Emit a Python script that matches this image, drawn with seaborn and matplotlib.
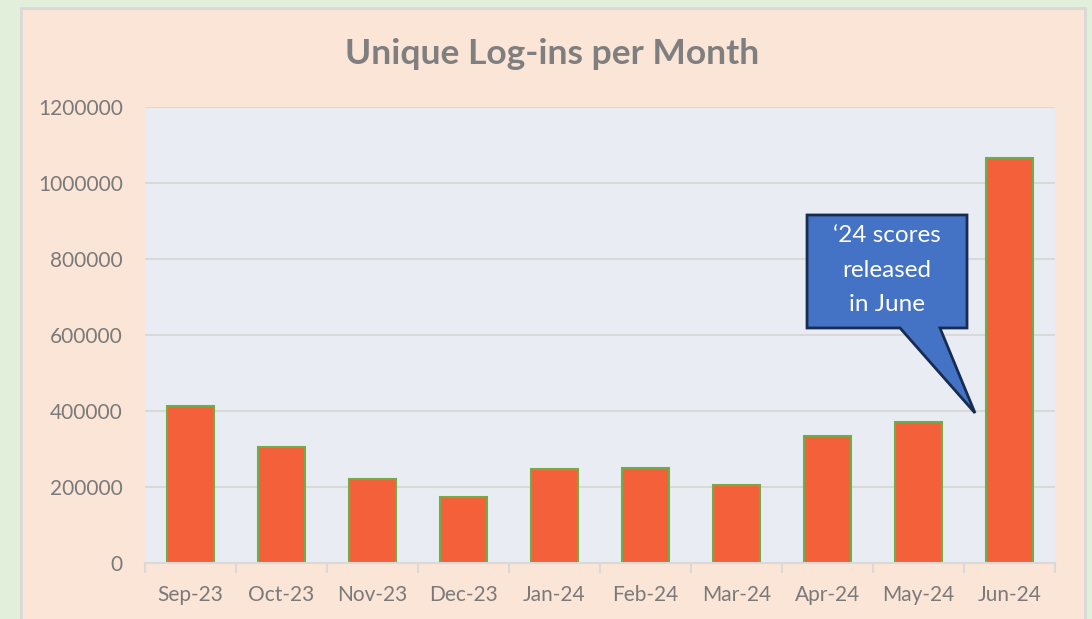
import matplotlib
matplotlib.use("Agg")
import matplotlib.pyplot as plt
import matplotlib.patches as mpatches
import seaborn as sns
import pandas as pd

months = ["Sep-23", "Oct-23", "Nov-23", "Dec-23", "Jan-24", "Feb-24",
          "Mar-24", "Apr-24", "May-24", "Jun-24"]
logins = [414000, 306000, 222000, 174000, 247000, 249000,
          205000, 335000, 372000, 1066000]
y_ticks = [0, 200000, 400000, 600000, 800000, 1000000, 1200000]
title = "Unique Log-ins per Month"
callout = "\u201824 scores\nreleased\nin June"

sns.set_theme(style="white")
plt.rcParams["font.family"] = ["Lato", "DejaVu Sans"]

W, H = 1092, 619
fig = plt.figure(figsize=(W / 100, H / 100), dpi=100)
fig.patch.set_facecolor("#e2efda")

# background axes holding the peach chart panel
bg = fig.add_axes([0, 0, 1, 1], zorder=-5)
bg.set_xlim(0, W)
bg.set_ylim(H, 0)
bg.axis("off")
bg.add_patch(mpatches.Rectangle((21, 8), 1085 - 21, H + 20,
                                facecolor="#fbe5d6", edgecolor="#d9d9d9",
                                linewidth=2))

ax = fig.add_axes([145 / W, (H - 563) / H, 910 / W, 456 / H], zorder=1)
ax.set_facecolor("#e9edf3")

df = pd.DataFrame({"month": months, "logins": logins})
sns.barplot(data=df, x="month", y="logins", color="#f4603a", saturation=1,
            edgecolor="#70ad47", linewidth=1.5, width=0.51, ax=ax, zorder=3)

ax.set_ylim(0, 1200000)
ax.set_xlim(-0.5, len(months) - 0.5)
ax.set_yticks(y_ticks)
ax.set_yticklabels([str(v) for v in y_ticks])
ax.yaxis.grid(True, color="#d9d9d9", linewidth=1.5, zorder=0)
ax.set_axisbelow(True)
for s in ["left", "right", "top"]:
    ax.spines[s].set_visible(False)
ax.spines["bottom"].set_color("#d9d9d9")
ax.spines["bottom"].set_linewidth(1.5)
ax.spines["bottom"].set_zorder(4)

ax.tick_params(axis="y", length=0, pad=16, labelsize=15, labelcolor="#7a7a7a")
ax.tick_params(axis="x", which="major", length=0, pad=16, labelsize=15,
               labelcolor="#7a7a7a")
ax.set_xticks([i - 0.5 for i in range(len(months) + 1)], minor=True)
ax.tick_params(axis="x", which="minor", length=7, width=1.5, color="#d9d9d9",
               direction="out", bottom=True)
ax.set_xlabel("")
ax.set_ylabel("")

fig.text(552 / W, 1 - 54 / H, title, ha="center", va="center",
         fontsize=25.5, fontweight="bold", color="#7f7f7f")

# callout shape (axes fraction)
verts = [(0.7275, 0.7632), (0.9033, 0.7632), (0.9033, 0.5154),
         (0.8736, 0.5154), (0.9121, 0.3289), (0.8297, 0.5154),
         (0.7275, 0.5154)]
poly = mpatches.Polygon(verts, closed=True, transform=ax.transAxes,
                        facecolor="#4472c4", edgecolor="#172c51",
                        linewidth=2, zorder=6, clip_on=False)
ax.add_patch(poly)
ax.text(0.8154, 0.642, callout, transform=ax.transAxes, ha="center",
        va="center", fontsize=17.5, color="white", fontweight="normal",
        linespacing=1.8, zorder=7)

fig.savefig("out.png", dpi=100, facecolor=fig.get_facecolor())
